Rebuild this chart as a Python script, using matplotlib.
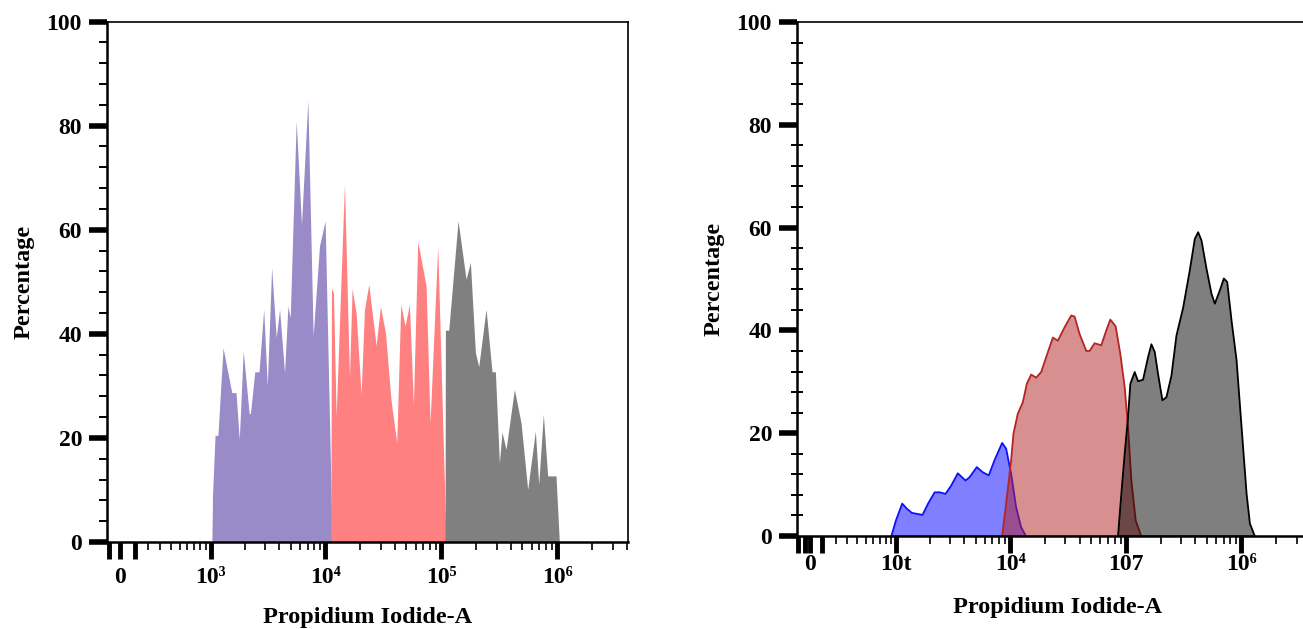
import matplotlib.pyplot as plt

plt.rcParams['font.family'] = ['Liberation Serif', 'DejaVu Serif']
plt.rcParams['font.weight'] = 'bold'

# ---- left panel: jagged histogram split in three gates ----
left_g1_x = [1020, 1034, 1090, 1157, 1286, 1537, 1675, 1790, 1938, 2183, 2241, 2443,
             2662, 2921, 3141, 3424, 3755, 4012, 4432, 4735, 4960, 5587, 6209, 7042,
             7829, 8878, 9934, 11415]
left_g1_y = [0, 9, 20.5, 20.5, 37.3, 28.7, 28.7, 19.7, 36.7, 24.7, 24.7, 32.7,
             32.7, 44.7, 30, 52.7, 39.3, 44.7, 32.5, 45.3, 43.1, 80.9, 61, 84.9,
             39.6, 56.9, 61.7, 0]

left_g2_x = [11120, 11270, 11722, 12360, 14584, 16102, 16978, 18384, 20300, 21690,
             23636, 27344, 29801, 32915, 36823, 41200, 44610, 48620, 52990, 57380,
             62520, 73770, 79850, 93000, 109700]
left_g2_y = [0, 48.7, 47.9, 24.2, 68.8, 31.6, 48.7, 44, 28.4, 44.7,
             49.5, 37.7, 45.3, 40.2, 27.1, 19.1, 45.7, 41.5, 45.7, 26.4,
             57.8, 49.2, 22.9, 56.9, 0]

left_g3_x = [107550, 108270, 115680, 139210, 163190, 177830, 196420, 209840, 242710,
             273460, 292120, 316230, 333430, 360990, 425900, 486300, 555100, 646200,
             690500, 757400, 825400, 973900, 1040400]
left_g3_y = [0, 40.7, 40.7, 61.7, 50.5, 53.7, 36.4, 33.7, 44.7,
             32.7, 32.7, 15.2, 21.1, 17.8, 29.3, 22.9, 10.1, 21.3,
             11.1, 24.5, 12.7, 12.7, 0]

# ---- right panel: smoothed overlays ----
right_blue_x = [887, 980, 1120, 1237, 1367, 1703, 1907, 2179, 2407, 2713, 3039, 3472,
                4046, 4382, 5073, 5717, 6446, 7218, 8413, 9112, 10066, 11122, 12290, 13580]
right_blue_y = [0, 3.1, 6.4, 5.4, 4.6, 4.2, 6.4, 8.6, 8.6, 8.3, 9.9, 12.3,
                10.9, 11.5, 13.5, 12.5, 11.9, 14.8, 18.2, 17.1, 12.2, 5.7, 1.8, 0]

right_red_x = [8413, 9112, 10066, 10546, 11500, 12706, 13764, 15008, 16587, 18323, 20250,
               23131, 25556, 29200, 33356, 35646, 39388, 45006, 48105, 53145, 60710,
               67070, 72660, 80800, 88720, 96720, 103400, 110500, 120500, 134900]
right_red_y = [0, 6.4, 14.8, 20, 23.9, 26.1, 29.7, 31.5, 30.9, 32, 34.9,
               38.7, 38.1, 40.7, 43, 42.8, 39.4, 36.1, 36.1, 37.6, 37.2,
               40.1, 42.2, 40.9, 35.5, 29.1, 21.3, 10.9, 3.1, 0]

right_gray_x = [84660, 90490, 96720, 103400, 108300, 118100, 126300, 139500, 154200, 164800,
                176100, 188200, 205200, 222300, 245600, 271400, 310000, 354100, 391300,
                418200, 447000, 493900, 545800, 583400, 644600, 698300, 746200, 813600,
                899000, 993400, 1098000, 1173000, 1297000]
right_gray_y = [0, 8.3, 16.1, 23.2, 29.7, 32, 30.2, 30.5, 34.9, 37.4,
                35.9, 31.6, 26.5, 27.1, 31.3, 39.1, 44.5, 51.8, 57.9,
                59.2, 57.6, 52.1, 47.2, 45.3, 47.9, 50.2, 49.5, 42,
                34.3, 21.3, 8.3, 2.5, 0]

y_ticks = [0, 20, 40, 60, 80, 100]
y_minor = [v for v in range(0, 101, 4) if v % 20 != 0]

left_xticks = [-80, 0, 100, 1e3, 1e4, 1e5, 1e6]
left_xlabels = ['', '0', '', '10³', '10⁴', '10⁵', '10⁶']
right_xticks = [-90, -35, 0, 90, 1e3, 1e4, 1e5, 1e6]
right_xlabels = ['', '', '0', '', '10t', '10⁴', '107', '10⁶']

FS = 17
LFS = 17.5
fig = plt.figure(figsize=(13.03, 6.29), dpi=100)

W, H = 1303, 629
ax1 = fig.add_axes([107 / W, (H - 542) / H, 521 / W, 520.5 / H])
ax2 = fig.add_axes([797 / W, (H - 536) / H, 521 / W, 514 / H])


def setup(ax, lw, xlim, ticks, labels, minor_dir, xpad):
    ax.set_xscale('asinh', linear_width=lw)
    ax.set_xlim(*xlim)
    ax.set_ylim(0, 100)
    minors = [k * 10 ** n for n in range(2, 7) for k in range(2, 10)]
    minors = [m for m in minors if m < xlim[1]]
    ax.set_xticks(ticks, labels)
    ax.set_xticks(minors, minor=True)
    ax.set_yticks(y_ticks, [str(v) for v in y_ticks])
    ax.set_yticks(y_minor, minor=True)
    ax.tick_params(axis='x', which='major', direction='out', length=12, width=3.5,
                   labelsize=FS, pad=xpad)
    ax.tick_params(axis='x', which='minor', direction='out', length=6, width=1.2)
    ax.tick_params(axis='y', which='major', direction='out', length=13, width=4,
                   labelsize=FS, pad=5)
    ax.tick_params(axis='y', which='minor', direction=minor_dir, length=6, width=1.4)
    for s in ['left', 'bottom']:
        ax.spines[s].set_linewidth(1.8)
    for s in ['top', 'right']:
        ax.spines[s].set_linewidth(1.2)
    ax.set_xlabel('Propidium Iodide-A', fontsize=LFS, fontweight='bold')
    ax.set_ylabel('Percentage', fontsize=LFS, fontweight='bold', labelpad=8.5)


# left panel
ax1.fill_between(left_g1_x, left_g1_y, color='#988bc7', lw=0)
ax1.fill_between(left_g2_x, left_g2_y, color='#ff8080', lw=0)
ax1.fill_between(left_g3_x, left_g3_y, color='#808080', lw=0)
setup(ax1, 340, (-91, 4.07e6), left_xticks, left_xlabels, 'out', 6)
ax1.xaxis.labelpad = 13.5

# right panel
ax2.fill_between(right_blue_x, right_blue_y, facecolor=(0, 0, 1, 0.5),
                 edgecolor='#1010ff', lw=1.3)
ax2.fill_between(right_red_x, right_red_y, facecolor=(0.70, 0.13, 0.13, 0.5),
                 edgecolor='#b52525', lw=1.3)
ax2.fill_between(right_gray_x, right_gray_y, facecolor=(0, 0, 0, 0.5),
                 edgecolor='black', lw=1.3)
setup(ax2, 370, (-97, 4.6e6), right_xticks, right_xlabels, 'inout', 1)
ax2.tick_params(axis='y', which='minor', length=9)
ax2.xaxis.labelpad = 15.5

fig.savefig('out.png', dpi=100)
